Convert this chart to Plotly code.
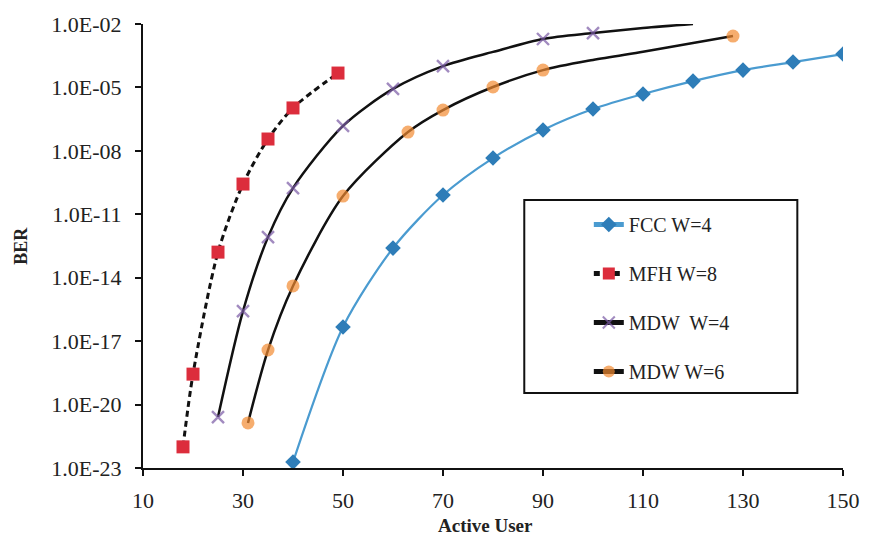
import plotly.graph_objects as go

# ---- data ----
fcc_x = [40, 50, 60, 70, 80, 90, 100, 110, 120, 130, 140, 150]
fcc_log = [-22.72, -16.33, -12.6, -10.09, -8.34, -7.01, -6.02, -5.31, -4.70, -4.18, -3.80, -3.42]

mfh_x = [18, 20, 25, 30, 35, 40, 49]
mfh_log = [-22.0, -18.56, -12.79, -9.57, -7.44, -5.97, -4.32]

mdw4_x = [25, 30, 35, 40, 50, 60, 70, 80, 90, 100, 110, 120]
mdw4_log = [-20.59, -15.58, -12.08, -9.76, -6.82, -5.07, -3.99, -3.32, -2.71, -2.43, -2.19, -2.0]
mdw4_shown = [1, 1, 1, 1, 1, 1, 1, 0, 1, 1, 0, 0]

mdw6_x = [31, 35, 40, 50, 63, 70, 80, 90, 100, 110, 120, 128]
mdw6_log = [-20.87, -17.42, -14.39, -10.14, -7.11, -6.07, -4.98, -4.18, -3.70, -3.31, -2.90, -2.57]
mdw6_shown = [1, 1, 1, 1, 1, 1, 1, 1, 0, 0, 0, 1]

y_tick_exp = [-2, -5, -8, -11, -14, -17, -20, -23]
x_ticks = [10, 30, 50, 70, 90, 110, 130, 150]

FONT = "Liberation Serif"
TXT = "#222222"

# plot-area geometry in pixels
L, R, T, B = 143, 848, 24, 468
PW, PH = R - L, B - T

def px_x(p):
    return (p - L) / PW

def px_y(p):
    return 1 - (p - T) / PH

def pw(vals):
    return [10 ** v for v in vals]

fig = go.Figure()

fig.add_trace(go.Scatter(
    x=fcc_x, y=pw(fcc_log), name="FCC W=4", legendgroup="a",
    mode="lines+markers", line=dict(color="#4A9BD0", width=2.2, shape="spline", smoothing=0.8),
    marker=dict(symbol="diamond", size=12, color="#2E7DB8", line=dict(width=0)),
))
fig.add_trace(go.Scatter(
    x=mfh_x, y=pw(mfh_log), name="MFH W=8", legendgroup="b",
    mode="lines+markers", line=dict(color="#111111", width=3, dash="6px,4px", shape="spline", smoothing=0.8),
    marker=dict(symbol="square", size=13, color="#DC2D3C", line=dict(width=0)),
))
fig.add_trace(go.Scatter(
    x=mdw4_x, y=pw(mdw4_log), name="MDW  W=4", legendgroup="c",
    mode="lines+markers", line=dict(color="#111111", width=2.5, shape="spline", smoothing=0.8),
    marker=dict(symbol="x-thin", size=[12 * s for s in mdw4_shown], color="#7B5BA6",
                line=dict(color="#7B5BA6", width=2.4)),
))
fig.add_trace(go.Scatter(
    x=mdw6_x, y=pw(mdw6_log), name="MDW W=6", legendgroup="d",
    mode="lines+markers", line=dict(color="#111111", width=2.5, shape="spline", smoothing=0.8),
    marker=dict(symbol="circle", size=[13 * s for s in mdw6_shown], color="#F28A30",
                line=dict(width=0)),
))

fig.update_layout(
    width=872, height=538,
    margin=dict(l=L, r=872 - R, t=T, b=538 - B),
    paper_bgcolor="white", plot_bgcolor="white",
    font=dict(family=FONT, size=22, color=TXT),
    showlegend=True,
    legend=dict(
        x=px_x(592), y=px_y(205), xanchor="left", yanchor="top",
        borderwidth=0, bgcolor="rgba(0,0,0,0)",
        font=dict(family=FONT, size=20, color=TXT),
        tracegroupgap=20, itemsizing="constant",
    ),
    shapes=[
        dict(type="rect", xref="paper", yref="paper",
             x0=px_x(527), x1=px_x(802), y0=px_y(393), y1=px_y(200),
             line=dict(color="#111111", width=2), fillcolor="white", layer="below"),
    ],
    xaxis=dict(
        range=[10, 150], tickvals=x_ticks, ticktext=[str(v) for v in x_ticks],
        showgrid=False, zeroline=False, showline=True, linecolor="#111111", linewidth=2,
        ticks="outside", ticklen=6, tickwidth=2, tickcolor="#111111",
        ticklabelstandoff=6,
    ),
    yaxis=dict(
        type="log", range=[-23, -2],
        tickvals=[10 ** e for e in y_tick_exp],
        ticktext=["1.0E-%02d" % (-e) for e in y_tick_exp],
        showgrid=False, zeroline=False, showline=True, linecolor="#111111", linewidth=2,
        ticks="outside", ticklen=6, tickwidth=2, tickcolor="#111111",
        ticklabelstandoff=9,
    ),
    annotations=[
        dict(text="<b>Active User</b>", xref="paper", yref="paper",
             x=px_x(488), y=px_y(525), xanchor="center", yanchor="middle",
             showarrow=False, font=dict(family=FONT, size=19, color=TXT)),
        dict(text="<b>BER</b>", xref="paper", yref="paper",
             x=px_x(20), y=0.5, xanchor="center", yanchor="middle", textangle=-90,
             showarrow=False, font=dict(family=FONT, size=18, color=TXT)),
    ],
)

fig.write_html("out.html", config={"displayModeBar": False},
               post_script="document.body.style.margin='0px';")
